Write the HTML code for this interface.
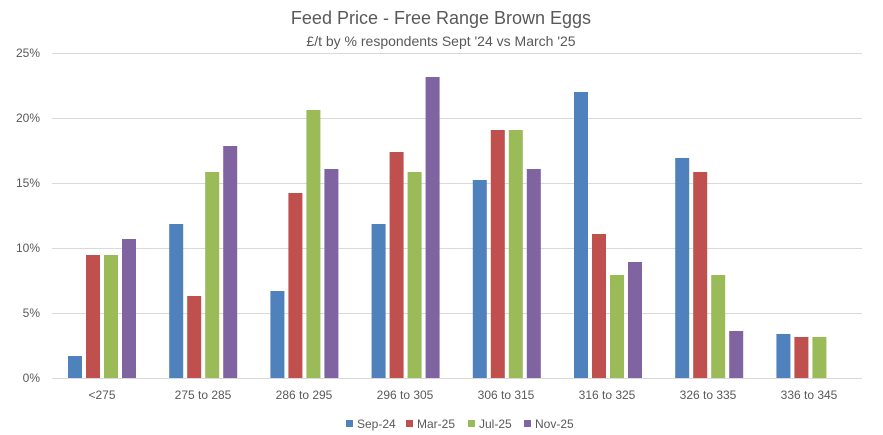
<!DOCTYPE html>
<html><head><style>body{margin:0;background:#fff}svg{display:block}text{font-family:"Liberation Sans",sans-serif;fill:#595959}</style></head>
<body>
<svg width="883" height="435" xmlns="http://www.w3.org/2000/svg">
<text x="441" y="24" font-size="18" text-anchor="middle">Feed Price - Free Range Brown Eggs</text>
<text x="441" y="46" font-size="14" text-anchor="middle">£/t by % respondents Sept '24 vs March '25</text>
<g stroke="#d9d9d9" stroke-width="1">
<line x1="52" x2="862" y1="53.5" y2="53.5"/><line x1="52" x2="862" y1="118.5" y2="118.5"/><line x1="52" x2="862" y1="183.5" y2="183.5"/><line x1="52" x2="862" y1="248.5" y2="248.5"/><line x1="52" x2="862" y1="313.5" y2="313.5"/><line x1="52" x2="862" y1="378.5" y2="378.5"/>
</g>
<g font-size="12" text-anchor="end">
<text x="40" y="57">25%</text><text x="40" y="122">20%</text><text x="40" y="187">15%</text><text x="40" y="252">10%</text><text x="40" y="317">5%</text><text x="40" y="382">0%</text>
</g>
<g fill="#4F81BD">
<rect x="68" y="356" width="14" height="22"/>
<rect x="169.2" y="224" width="14" height="154"/>
<rect x="270.4" y="291" width="14" height="87"/>
<rect x="371.6" y="224" width="14" height="154"/>
<rect x="472.8" y="180" width="14" height="198"/>
<rect x="574" y="92" width="14" height="286"/>
<rect x="675.2" y="158" width="14" height="220"/>
<rect x="776.4" y="334" width="14" height="44"/>
</g>
<g fill="#C0504D">
<rect x="86" y="255" width="14" height="123"/>
<rect x="187.2" y="296" width="14" height="82"/>
<rect x="288.4" y="193" width="14" height="185"/>
<rect x="389.6" y="152" width="14" height="226"/>
<rect x="490.8" y="130" width="14" height="248"/>
<rect x="592" y="234" width="14" height="144"/>
<rect x="693.2" y="172" width="14" height="206"/>
<rect x="794.4" y="337" width="14" height="41"/>
</g>
<g fill="#9BBB59">
<rect x="104" y="255" width="14" height="123"/>
<rect x="205.2" y="172" width="14" height="206"/>
<rect x="306.4" y="110" width="14" height="268"/>
<rect x="407.6" y="172" width="14" height="206"/>
<rect x="508.8" y="130" width="14" height="248"/>
<rect x="610" y="275" width="14" height="103"/>
<rect x="711.2" y="275" width="14" height="103"/>
<rect x="812.4" y="337" width="14" height="41"/>
</g>
<g fill="#8064A2">
<rect x="122" y="239" width="14" height="139"/>
<rect x="223.2" y="146" width="14" height="232"/>
<rect x="324.4" y="169" width="14" height="209"/>
<rect x="425.6" y="77" width="14" height="301"/>
<rect x="526.8" y="169" width="14" height="209"/>
<rect x="628" y="262" width="14" height="116"/>
<rect x="729.2" y="331" width="14" height="47"/>
</g>
<g font-size="12" text-anchor="middle">
<text x="102" y="399">&lt;275</text><text x="203" y="399">275 to 285</text><text x="304" y="399">286 to 295</text><text x="405" y="399">296 to 305</text><text x="506" y="399">306 to 315</text><text x="607" y="399">316 to 325</text><text x="708" y="399">326 to 335</text><text x="809" y="399">336 to 345</text>
</g>
<g font-size="12">
<rect x="346" y="420" width="7" height="7" fill="#4F81BD"/><text x="357" y="428">Sep-24</text>
<rect x="406" y="420" width="7" height="7" fill="#C0504D"/><text x="417" y="428">Mar-25</text>
<rect x="468" y="420" width="7" height="7" fill="#9BBB59"/><text x="479" y="428">Jul-25</text>
<rect x="524" y="420" width="7" height="7" fill="#8064A2"/><text x="535" y="428">Nov-25</text>
</g>
</svg>
</body></html>
